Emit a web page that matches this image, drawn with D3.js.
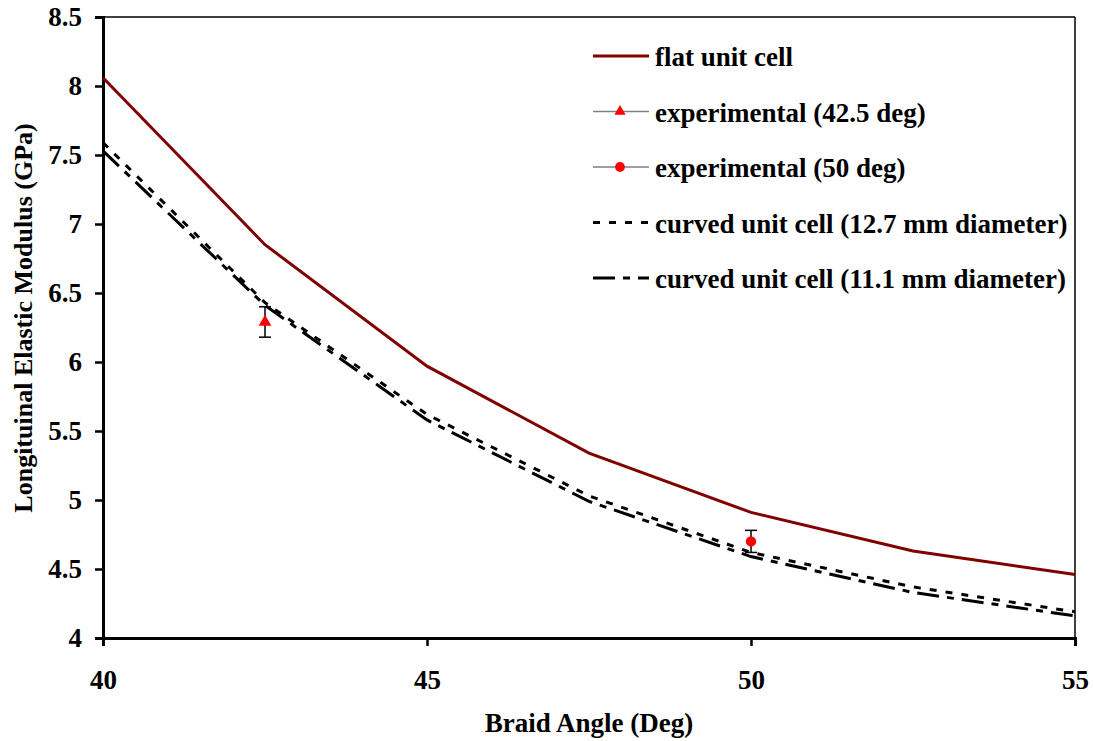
<!DOCTYPE html>
<html>
<head>
<meta charset="utf-8">
<script src="https://cdn.jsdelivr.net/npm/d3@7"></script>
<style>
  body { margin: 0; background: #fff; }
  text { font-family: "Liberation Serif", "Times New Roman", serif; font-weight: bold; }
</style>
</head>
<body>
<svg></svg>
<script>
const angles = [40, 42.5, 45, 47.5, 50, 52.5, 55];
const flatCell = [8.06, 6.85, 5.97, 5.34, 4.91, 4.63, 4.46];
const curved127 = [7.59, 6.43, 5.62, 5.03, 4.62, 4.37, 4.19];
const curved111 = [7.53, 6.41, 5.58, 4.99, 4.59, 4.33, 4.16];
const exp425 = {x: 42.5, y: 6.29, err: 0.11};
const exp50 = {x: 50, y: 4.70, err: 0.08};
const xTicks = [40, 45, 50, 55];
const yTicks = [4, 4.5, 5, 5.5, 6, 6.5, 7, 7.5, 8, 8.5];

const width = 1093, height = 741;
const margin = {top: 17, right: 18, bottom: 103, left: 103};
const innerWidth = width - margin.left - margin.right;
const innerHeight = height - margin.top - margin.bottom;

const svg = d3.select('svg')
  .attr('width', width)
  .attr('height', height);

const xScale = d3.scaleLinear().domain([40, 55]).range([0, innerWidth]);
const yScale = d3.scaleLinear().domain([4, 8.5]).range([innerHeight, 0]);

const g = svg.append('g')
  .attr('transform', `translate(${margin.left}, ${margin.top})`);

// frame: thin top/right
g.append('line').attr('x1', 0).attr('x2', innerWidth).attr('y1', 0).attr('y2', 0)
  .attr('stroke', '#000').attr('stroke-width', 1.5);
g.append('line').attr('x1', innerWidth).attr('x2', innerWidth).attr('y1', 0).attr('y2', innerHeight)
  .attr('stroke', '#000').attr('stroke-width', 1.5);

const yAxis = g.append('g')
  .call(d3.axisLeft(yScale).tickValues(yTicks).tickSize(8).tickPadding(13).tickFormat(d3.format('')));
yAxis.select('.domain').attr('stroke-width', 3);
yAxis.selectAll('.tick line').attr('stroke-width', 2.5);
yAxis.selectAll('text').style('font-size', '27px');

const xAxis = g.append('g')
  .attr('transform', `translate(0, ${innerHeight})`)
  .call(d3.axisBottom(xScale).tickValues(xTicks).tickSize(8).tickPadding(24));
xAxis.select('.domain').attr('stroke-width', 3);
xAxis.selectAll('.tick line').attr('stroke-width', 2.5);
xAxis.selectAll('text').style('font-size', '27px');

svg.append('text')
  .attr('x', 589)
  .attr('y', 732)
  .attr('text-anchor', 'middle')
  .style('font-size', '27px')
  .text('Braid Angle (Deg)');

svg.append('text')
  .attr('transform', `translate(32, 318) rotate(-90)`)
  .attr('text-anchor', 'middle')
  .style('font-size', '26px')
  .text('Longituinal Elastic Modulus (GPa)');

const line = d3.line()
  .x((d, i) => xScale(angles[i]))
  .y(d => yScale(d));

const dash127 = '7,9';
const dash111 = '22,8,7,8';

const series = [
  {name: 'curved unit cell (12.7 mm diameter)', values: curved127, color: '#000', width: 3, dash: dash127},
  {name: 'curved unit cell (11.1 mm diameter)', values: curved111, color: '#000', width: 3, dash: dash111},
  {name: 'flat unit cell', values: flatCell, color: '#800000', width: 3, dash: null}
];

g.selectAll('path.series').data(series)
  .enter().append('path')
  .attr('class', 'series')
  .attr('d', d => line(d.values))
  .attr('fill', 'none')
  .attr('stroke', d => d.color)
  .attr('stroke-width', d => d.width)
  .attr('stroke-dasharray', d => d.dash);

// experimental points with error bars
const drawErr = p => {
  const x = xScale(p.x);
  const e = g.append('g').attr('stroke', '#000').attr('stroke-width', 1.5);
  e.append('line').attr('x1', x).attr('x2', x).attr('y1', yScale(p.y + p.err)).attr('y2', yScale(p.y - p.err));
  e.append('line').attr('x1', x - 6).attr('x2', x + 6).attr('y1', yScale(p.y + p.err)).attr('y2', yScale(p.y + p.err));
  e.append('line').attr('x1', x - 6).attr('x2', x + 6).attr('y1', yScale(p.y - p.err)).attr('y2', yScale(p.y - p.err));
};
drawErr(exp425);
drawErr(exp50);

const tri = d3.symbol().type(d3.symbolTriangle).size(70);
const circ = d3.symbol().type(d3.symbolCircle).size(85);
g.append('path').attr('d', tri())
  .attr('transform', `translate(${xScale(exp425.x)}, ${yScale(exp425.y)})`)
  .attr('fill', '#ff0000');
g.append('path').attr('d', circ())
  .attr('transform', `translate(${xScale(exp50.x)}, ${yScale(exp50.y)})`)
  .attr('fill', '#ff0000');

// legend
const legendItems = [
  {label: 'flat unit cell', color: '#800000', width: 3, dash: null, marker: null},
  {label: 'experimental (42.5 deg)', color: '#808080', width: 1.5, dash: null, marker: 'tri'},
  {label: 'experimental (50 deg)', color: '#404040', width: 1.2, dash: null, marker: 'circ'},
  {label: 'curved unit cell (12.7 mm diameter)', color: '#000', width: 3, dash: dash127},
  {label: 'curved unit cell (11.1 mm diameter)', color: '#000', width: 3, dash: dash111}
];
const legend = svg.append('g').attr('transform', 'translate(593, 56)');
const rows = legend.selectAll('g').data(legendItems)
  .enter().append('g')
  .attr('transform', (d, i) => `translate(0, ${i * 55.5})`);
rows.append('line')
  .attr('x1', 0).attr('x2', 56).attr('y1', 0).attr('y2', 0)
  .attr('stroke', d => d.color)
  .attr('stroke-width', d => d.width)
  .attr('stroke-dasharray', d => d.dash);
rows.filter(d => d.marker === 'tri').append('path')
  .attr('d', d3.symbol().type(d3.symbolTriangle).size(55)())
  .attr('transform', 'translate(27, 0)')
  .attr('fill', '#ff0000');
rows.filter(d => d.marker === 'circ').append('path')
  .attr('d', d3.symbol().type(d3.symbolCircle).size(75)())
  .attr('transform', 'translate(27, 0)')
  .attr('fill', '#ff0000');
rows.append('text')
  .attr('x', 62)
  .attr('y', 10)
  .style('font-size', '27px')
  .text(d => d.label);
</script>
</body>
</html>
